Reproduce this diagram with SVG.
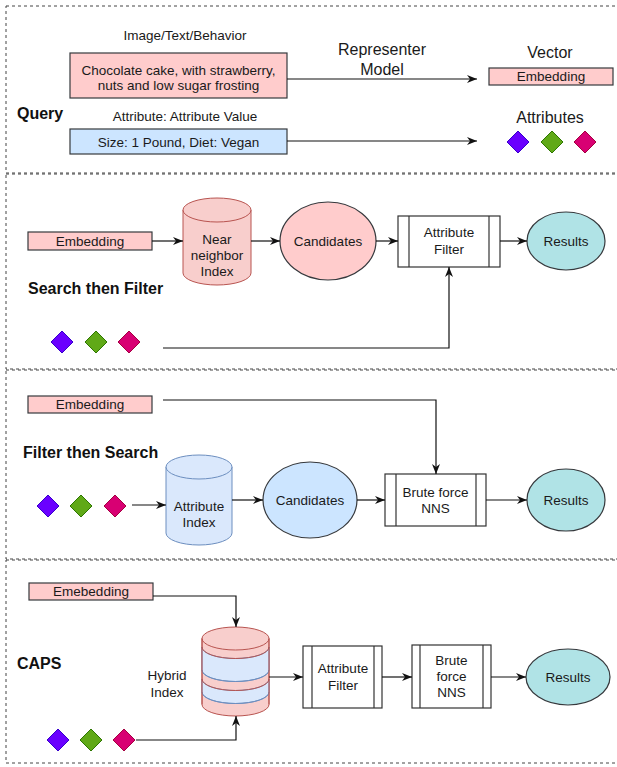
<svg xmlns="http://www.w3.org/2000/svg" xmlns:xlink="http://www.w3.org/1999/xlink" width="617" height="767" viewBox="0 0 617 767">
<style>
text{font-family:"Liberation Sans",Arial,Helvetica,sans-serif;font-size:13.5px;fill:#1a1a1a;text-anchor:middle}
.big{font-size:16px}
.title{font-size:16px;font-weight:bold;text-anchor:start;fill:#111}
.sec{fill:none;stroke:#444;stroke-width:1;stroke-dasharray:3 3}
.pink{fill:#ffcccc;stroke:#36393d;stroke-width:1.2}
.blue{fill:#cce5ff;stroke:#36393d;stroke-width:1.2}
.teal{fill:#b0e3e6;stroke:#36393d;stroke-width:1.2}
.proc{fill:#fff;stroke:#333;stroke-width:1.2}
.cylp{fill:#f8cecc;stroke:#b85450;stroke-width:1}
.cylb{fill:#dae8fc;stroke:#6c8ebf;stroke-width:1}
.conn path{fill:none;stroke:#111;stroke-width:1.2;marker-end:url(#arr)}
.dpu{fill:#6a00ff;stroke:#3700cc}
.dgr{fill:#60a917;stroke:#2d7600}
.dmg{fill:#d80073;stroke:#a50040}
</style>
<defs>
<marker id="arr" viewBox="0 0 10 10" refX="10" refY="5" markerWidth="10" markerHeight="10" markerUnits="userSpaceOnUse" orient="auto">
<path d="M0,1 L10,5 L0,9 L3,5 Z" fill="#111"/>
</marker>
<polygon id="dia" points="0,-11 11,0 0,11 -11,0"/>
</defs>

<!-- sections -->
<g id="sections">
<rect class="sec" x="6" y="6" width="620" height="167"/>
<rect class="sec" x="6" y="174" width="620" height="195"/>
<rect class="sec" x="6" y="370" width="620" height="189"/>
<rect class="sec" x="6" y="560" width="620" height="203"/>
</g>

<!-- Section 1: Query -->
<g id="query-label"><text class="title" x="17" y="119">Query</text></g>
<g id="q-text-label"><text x="185" y="40">Image/Text/Behavior</text></g>
<g id="q-text">
<rect class="pink" x="70" y="53" width="217" height="45"/>
<text x="178.5" y="74.5">Chocolate cake, with strawberry,</text>
<text x="178.5" y="89.5">nuts and low sugar frosting</text>
</g>
<g id="q-attr-label"><text x="185" y="120.5">Attribute: Attribute Value</text></g>
<g id="q-attr">
<rect class="blue" x="70" y="129" width="217" height="25"/>
<text x="178.5" y="146.5">Size: 1 Pound, Diet: Vegan</text>
</g>
<g id="representer"><text class="big" x="382" y="54.5">Representer</text><text class="big" x="382" y="74.5">Model</text></g>
<g id="vector-label"><text class="big" x="550" y="57.5">Vector</text></g>
<g id="q-embedding">
<rect class="pink" x="489" y="68" width="124" height="17"/>
<text x="551" y="80.5">Embedding</text>
</g>
<g id="attributes-label"><text class="big" x="550" y="122.5">Attributes</text></g>
<g id="q-diamonds">
<use href="#dia" class="dpu" x="518" y="142"/>
<use href="#dia" class="dgr" x="552" y="142"/>
<use href="#dia" class="dmg" x="585" y="142"/>
</g>

<!-- Section 2: Search then Filter -->
<g id="s2-title"><text class="title" x="28" y="294">Search then Filter</text></g>
<g id="s2-embedding">
<rect class="pink" x="28" y="232" width="124" height="18"/>
<text x="90" y="245.5">Embedding</text>
</g>
<g id="s2-nn-index">
<path class="cylp" d="M183,210 A34,12 0 0 1 251,210 L251,273 A34,12 0 0 1 183,273 Z"/>
<path class="cylp" fill="none" d="M183,210 A34,12 0 0 0 251,210"/>
<text x="217" y="243.5">Near</text>
<text x="217" y="259.5">neighbor</text>
<text x="217" y="275.5">Index</text>
</g>
<g id="s2-candidates">
<ellipse class="pink" cx="328" cy="241" rx="48" ry="39"/>
<text x="328" y="245.5">Candidates</text>
</g>
<g id="s2-filter">
<rect class="proc" x="398" y="216" width="102" height="51"/>
<line class="proc" x1="409" y1="216" x2="409" y2="267"/>
<line class="proc" x1="489" y1="216" x2="489" y2="267"/>
<text x="449" y="236.5">Attribute</text>
<text x="449" y="253.5">Filter</text>
</g>
<g id="s2-results">
<ellipse class="teal" cx="566" cy="241" rx="39" ry="29"/>
<text x="566" y="245.5">Results</text>
</g>
<g id="s2-diamonds">
<use href="#dia" class="dpu" x="62" y="342"/>
<use href="#dia" class="dgr" x="96" y="342"/>
<use href="#dia" class="dmg" x="129" y="342"/>
</g>

<!-- Section 3: Filter then Search -->
<g id="s3-title"><text class="title" x="23" y="458">Filter then Search</text></g>
<g id="s3-embedding">
<rect class="pink" x="28" y="396" width="124" height="17"/>
<text x="90" y="408.5">Embedding</text>
</g>
<g id="s3-diamonds">
<use href="#dia" class="dpu" x="48" y="506"/>
<use href="#dia" class="dgr" x="81" y="506"/>
<use href="#dia" class="dmg" x="115" y="506"/>
</g>
<g id="s3-attr-index">
<path class="cylb" d="M166,467 A33,12 0 0 1 232,467 L232,533 A33,12 0 0 1 166,533 Z"/>
<path class="cylb" fill="none" d="M166,467 A33,12 0 0 0 232,467"/>
<text x="199" y="510.5">Attribute</text>
<text x="199" y="526.5">Index</text>
</g>
<g id="s3-candidates">
<ellipse class="blue" cx="310" cy="500" rx="47" ry="38"/>
<text x="310" y="504.5">Candidates</text>
</g>
<g id="s3-brute">
<rect class="proc" x="385" y="474" width="101" height="52"/>
<line class="proc" x1="396" y1="474" x2="396" y2="526"/>
<line class="proc" x1="476" y1="474" x2="476" y2="526"/>
<text x="435.5" y="496.5">Brute force</text>
<text x="435.5" y="512.5">NNS</text>
</g>
<g id="s3-results">
<ellipse class="teal" cx="566" cy="500" rx="39" ry="31"/>
<text x="566" y="504.5">Results</text>
</g>

<!-- Section 4: CAPS -->
<g id="s4-title"><text class="title" x="17" y="669">CAPS</text></g>
<g id="s4-embedding">
<rect class="pink" x="29" y="583" width="124" height="17"/>
<text x="91" y="596">Emebedding</text>
</g>
<g id="s4-hybrid-label"><text x="167" y="679.5">Hybrid</text><text x="167" y="696.5">Index</text></g>
<g id="s4-hybrid-index">
<path class="cylp" d="M202,638.5 A33.5,11.5 0 0 1 269,638.5 L269,704.5 A33.5,11.5 0 0 1 202,704.5 Z"/>
<path class="cylb" stroke="none" d="M202,647 A33.5,11.5 0 0 0 269,647 L269,670 A33.5,11.5 0 0 1 202,670 Z"/>
<path class="cylb" stroke="none" d="M202,679 A33.5,11.5 0 0 0 269,679 L269,692 A33.5,11.5 0 0 1 202,692 Z"/>
<path fill="none" stroke="#b85450" d="M202,638.5 A33.5,11.5 0 0 0 269,638.5 M202,647 A33.5,11.5 0 0 0 269,647 M202,679 A33.5,11.5 0 0 0 269,679"/>
<path fill="none" stroke="#6c8ebf" d="M202,670 A33.5,11.5 0 0 0 269,670 M202,692 A33.5,11.5 0 0 0 269,692"/>
<path fill="none" stroke="#b85450" d="M202,638.5 V704.5 M269,638.5 V704.5"/>
</g>
<g id="s4-filter">
<rect class="proc" x="303" y="646" width="79" height="62"/>
<line class="proc" x1="312" y1="646" x2="312" y2="708"/>
<line class="proc" x1="374" y1="646" x2="374" y2="708"/>
<text x="343" y="672.5">Attribute</text>
<text x="343" y="689.5">Filter</text>
</g>
<g id="s4-brute">
<rect class="proc" x="412" y="645" width="79" height="63"/>
<line class="proc" x1="420" y1="645" x2="420" y2="708"/>
<line class="proc" x1="483" y1="645" x2="483" y2="708"/>
<text x="451.5" y="664.5">Brute</text>
<text x="451.5" y="680.5">force</text>
<text x="451.5" y="696.5">NNS</text>
</g>
<g id="s4-results">
<ellipse class="teal" cx="568" cy="677" rx="42" ry="28"/>
<text x="568" y="681.5">Results</text>
</g>
<g id="s4-diamonds">
<use href="#dia" class="dpu" x="58" y="740"/>
<use href="#dia" class="dgr" x="91" y="740"/>
<use href="#dia" class="dmg" x="124" y="740"/>
</g>

<!-- connectors -->
<g id="connectors" class="conn">
<path d="M287,79 H477"/>
<path d="M287,141 H477"/>
<path d="M152,241 H183"/>
<path d="M251,241 H280"/>
<path d="M376,241 H398"/>
<path d="M500,241 H527"/>
<path d="M163,348 H449 V267"/>
<path d="M163,400 H436 V474"/>
<path d="M132,505 H166"/>
<path d="M232,500 H263"/>
<path d="M357,500 H385"/>
<path d="M486,500 H527"/>
<path d="M153,596 H236 V627"/>
<path d="M136,740 H236 V716"/>
<path d="M269,677 H303"/>
<path d="M382,677 H412"/>
<path d="M491,677 H526"/>
</g>
</svg>
